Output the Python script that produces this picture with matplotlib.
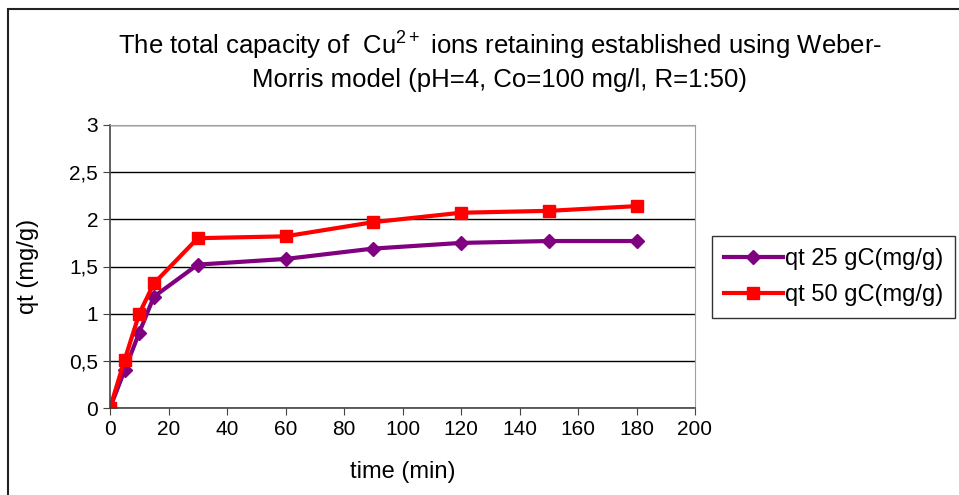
import matplotlib
matplotlib.use("Agg")
import matplotlib.pyplot as plt
from matplotlib.patches import Rectangle
from matplotlib.ticker import FuncFormatter

plt.rcParams['font.family'] = ['Liberation Sans', 'DejaVu Sans']
plt.rcParams['mathtext.fontset'] = 'custom'
plt.rcParams['mathtext.rm'] = 'Liberation Sans'
plt.rcParams['mathtext.it'] = 'Liberation Sans'

# time (min)
time = [0, 5, 10, 15, 30, 60, 90, 120, 150, 180]
# qt values
qt_25 = [0, 0.40, 0.80, 1.18, 1.52, 1.58, 1.69, 1.75, 1.77, 1.77]
qt_50 = [0, 0.51, 1.00, 1.32, 1.80, 1.82, 1.97, 2.07, 2.09, 2.14]

fig = plt.figure(figsize=(9.59, 4.95), dpi=100)
# outer chart border (right and bottom run off the picture)
fig.patches.append(Rectangle((8/959, -0.1), 1.2, 1.1 - 9/495,
                             transform=fig.transFigure, fill=False,
                             edgecolor='#222222', linewidth=1.5))

ax = fig.add_axes([110/959, 1 - 408/495, 585/959, 283/495])
ax.plot(time, qt_25, color='#800080', marker='D', markersize=7, linewidth=3,
        label='qt 25 gC(mg/g)')
ax.plot(time, qt_50, color='#ff0000', marker='s', markersize=8, linewidth=3,
        label='qt 50 gC(mg/g)')

ax.set_xlim(0, 200)
ax.set_ylim(0, 3)
ax.set_xticks(range(0, 201, 20))
ax.set_yticks([0, 0.5, 1, 1.5, 2, 2.5, 3])
ax.yaxis.set_major_formatter(FuncFormatter(lambda v, p: ('%g' % v).replace('.', ',')))
ax.grid(axis='y', color='black', linewidth=1)
ax.set_axisbelow(True)
ax.tick_params(axis='both', direction='out', labelsize=15, length=5, color='#444444')
for s in ['top', 'right']:
    ax.spines[s].set_color('#a0a0a0')
for s in ['left', 'bottom']:
    ax.spines[s].set_color('#444444')
    ax.spines[s].set_linewidth(1.2)

ax.set_xlabel('time (min)', fontsize=17, labelpad=16)
ax.set_ylabel('qt (mg/g)', fontsize=17, labelpad=22)

fig.text(500/959, 1 - 46/495,
         r'The total capacity of  Cu$^{\mathregular{2+}}$ ions retaining established using Weber-',
         ha='center', va='center', fontsize=18.5)
fig.text(500/959, 1 - 80/495, 'Morris model (pH=4, Co=100 mg/l, R=1:50)',
         ha='center', va='center', fontsize=18.5)

leg = ax.legend(loc='center left', bbox_to_anchor=(712/959, 1 - 277/495),
                bbox_transform=fig.transFigure, fontsize=17, frameon=True,
                fancybox=False, edgecolor='black', handlelength=2.5,
                handletextpad=0.1, borderpad=0.5, borderaxespad=0,
                labelspacing=0.6)
leg.get_frame().set_linewidth(1)

fig.savefig('out.png', dpi=100)
